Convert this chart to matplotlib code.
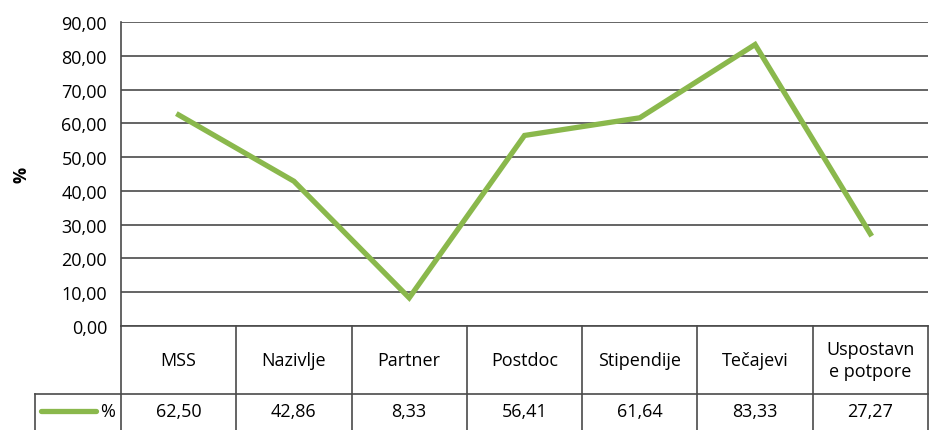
import matplotlib
matplotlib.use("Agg")
import matplotlib.pyplot as plt

categories = ["MSS", "Nazivlje", "Partner", "Postdoc", "Stipendije", "Tečajevi", "Uspostavn\ne potpore"]
values = [62.50, 42.86, 8.33, 56.41, 61.64, 83.33, 27.27]
series_name = "%"
y_ticks = [0, 10, 20, 30, 40, 50, 60, 70, 80, 90]

green = "#8AB84C"
grid_col = "#4a4a4a"
plt.rcParams["font.family"] = ["Open Sans", "DejaVu Sans"]
fs = 13

W, H = 930, 431
fig = plt.figure(figsize=(W / 100, H / 100), dpi=100)

# plot area (pixel bounds from the reference)
left, right, top, zero = 121, 928, 23, 327
ax = fig.add_axes([left / W, 1 - zero / H, (right - left) / W, (zero - top) / H])
n = len(categories)
x = list(range(n))
ax.plot(x, values, color=green, lw=3.8, solid_joinstyle="miter", zorder=3)
ax.set_xlim(-0.5, n - 0.5)
ax.set_ylim(0, 90)
ax.set_yticks(y_ticks)
ax.set_yticklabels([f"{v:.2f}".replace(".", ",") for v in y_ticks], fontsize=fs)
ax.tick_params(axis="y", length=0, pad=10)
ax.set_xticks([])
for s in ["top", "right", "bottom"]:
    ax.spines[s].set_visible(False)
ax.spines["left"].set_color(grid_col)
ax.spines["left"].set_linewidth(1.2)
ax.grid(axis="y", color=grid_col, lw=1.2)
ax.set_axisbelow(True)
ax.set_ylabel("%", fontsize=fs, fontweight="bold", labelpad=22)

# data table below the plot
tab = fig.add_axes([left / W, 0, (right - left) / W, (H - zero) / H])
tab.set_xlim(-0.5, n - 0.5)
tab.set_ylim(H - zero, 0)
tab.axis("off")
row_split = 395 - zero
lc = dict(color=grid_col, lw=1.2, clip_on=False)
tab.axhline(0, **lc)
for b in range(n + 1):
    tab.plot([b - 0.5, b - 0.5], [0, H - zero], **lc)
leg_left = -0.5 - (left - 35) / ((right - left) / n)
tab.plot([leg_left, n - 0.5], [row_split, row_split], **lc)
tab.plot([leg_left, leg_left], [row_split, H - zero], **lc)
for i, c in enumerate(categories):
    tab.text(i, row_split / 2, c, ha="center", va="center", fontsize=fs, linespacing=1.3)
    tab.text(i, row_split + 17, f"{values[i]:.2f}".replace(".", ","), ha="center", va="center", fontsize=fs)
tab.plot([leg_left + 0.05, -0.5 - 0.22], [row_split + 17, row_split + 17], color=green, lw=3.8,
         solid_capstyle="round", clip_on=False)
tab.text(-0.5 - 0.05, row_split + 17, series_name, ha="right", va="center", fontsize=fs)

fig.savefig("out.png", dpi=100)
